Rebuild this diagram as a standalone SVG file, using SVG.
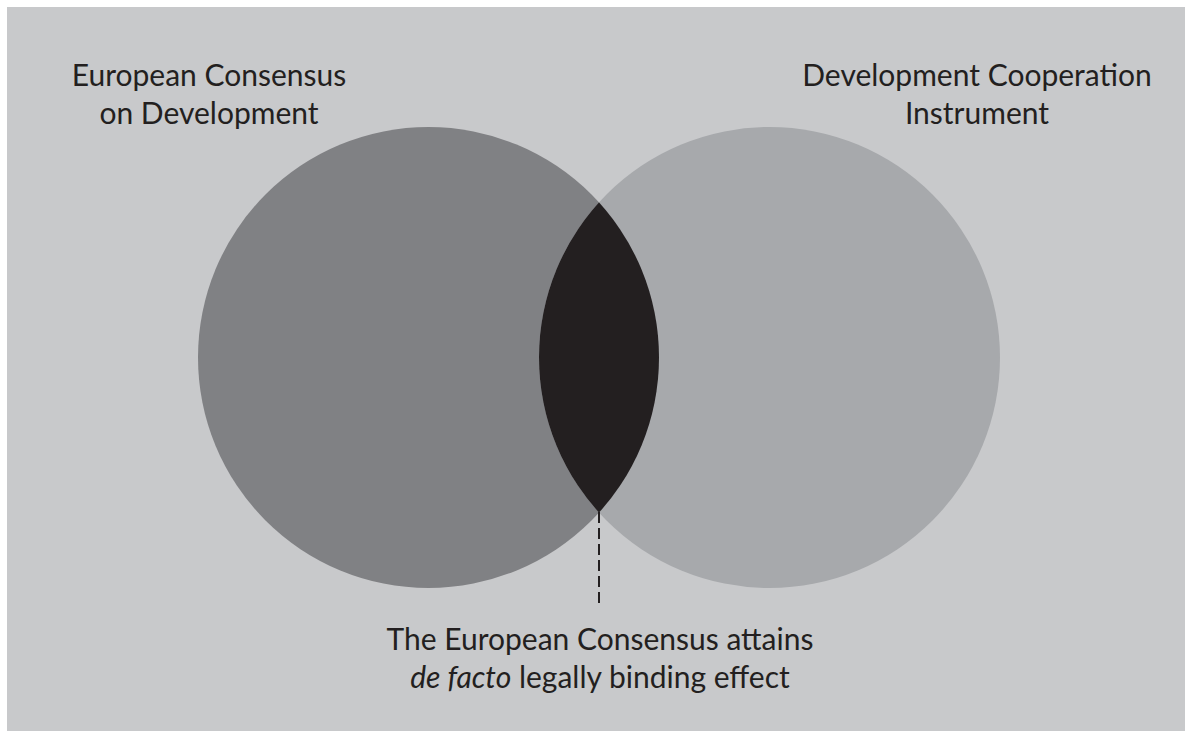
<svg xmlns="http://www.w3.org/2000/svg" width="1185" height="731" viewBox="0 0 1185 731">
  <style>
    .lbl { font-family: Lato, "Open Sans", "Liberation Sans", sans-serif; font-size: 30px; fill: #231f20; text-anchor: middle; }
    .it { font-style: italic; }
  </style>
  <defs>
    <clipPath id="clipLeft">
      <circle cx="428.5" cy="357.5" r="230.5"/>
    </clipPath>
  </defs>
  <rect x="0" y="0" width="1185" height="731" fill="#ffffff"/>
  <rect x="7" y="7" width="1178" height="724" fill="#c8c9cb"/>

  <g id="node-consensus">
    <circle cx="428.5" cy="357.5" r="230.5" fill="#808184"/>
    <text class="lbl" x="209" y="86">European Consensus</text>
    <text class="lbl" x="209" y="124">on Development</text>
  </g>

  <g id="node-dci">
    <circle cx="769.5" cy="357.5" r="230.5" fill="#a7a9ac"/>
    <text class="lbl" x="977" y="86">Development Cooperation</text>
    <text class="lbl" x="977" y="124">Instrument</text>
  </g>

  <g id="node-overlap">
    <circle cx="769.5" cy="357.5" r="230.5" fill="#231f20" clip-path="url(#clipLeft)"/>
    <text class="lbl" x="600" y="650">The European Consensus attains</text>
    <text class="lbl" x="600" y="688"><tspan class="it">de facto</tspan> legally binding effect</text>
  </g>

  <g id="connectors">
    <line x1="599" y1="512" x2="599" y2="607" stroke="#231f20" stroke-width="2" stroke-dasharray="11 5"/>
  </g>
</svg>
